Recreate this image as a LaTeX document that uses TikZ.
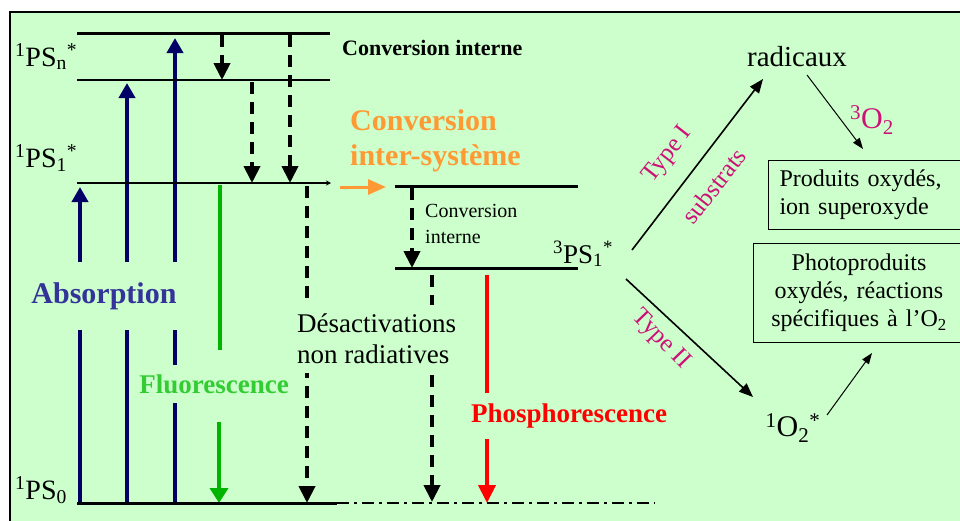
\documentclass[tikz,border=0pt]{standalone}
\usepackage{fontspec}
\setmainfont{Liberation Serif}
\usetikzlibrary{arrows.meta}
\definecolor{bgc}{HTML}{CCFFCC}
\definecolor{navy}{HTML}{000066}
\definecolor{absblue}{HTML}{333399}
\definecolor{fgreen}{HTML}{00B400}
\definecolor{ftext}{HTML}{33CC33}
\definecolor{orng}{HTML}{FF9933}
\definecolor{magn}{HTML}{CC1177}
\newcommand\fsz[2]{\fontsize{#1}{#2}\selectfont}
\newcommand\up[1]{\textsuperscript{#1}}
\newcommand\dn[1]{\textsubscript{#1}}
\begin{document}
\begin{tikzpicture}[x=1pt,y=-1pt,
  lbl/.style={inner sep=0pt},
  covered/.style={fill=bgc},
  level/.style={line width=2pt},
  thicklevel/.style={line width=3pt},
  absarrow/.style={draw=navy,line width=4.5pt,-{Triangle[length=15pt,width=16pt]}},
  darrow/.style={line width=4pt,dash pattern=on 12pt off 8pt,-{Triangle[length=17pt,width=16pt]}},
  fluoarrow/.style={draw=fgreen,line width=4pt},
  phosarrow/.style={draw=red,line width=4pt},
  typearrow/.style={line width=1.6pt,-{Triangle[length=14pt,width=11pt]}},
  thinarrow/.style={line width=1pt,-{Triangle[length=11pt,width=8pt]}},
  boxnode/.style={draw,line width=1pt,font={\fsz{24}{28}}},
  typelbl/.style={inner sep=0pt,text=magn,font={\fsz{25}{27}}},
]
\useasboundingbox (0,0) rectangle (960,520);
\fill[bgc] (10,12) rectangle (964,524);
\draw[line width=2pt] (10,524) -- (10,12) -- (964,12);

% level coordinates
\coordinate (n1a) at (77,33);   \coordinate (n1b) at (330,33);
\coordinate (n2a) at (77,80);   \coordinate (n2b) at (330,80);
\coordinate (s1a) at (77,183);  \coordinate (s1b) at (331,183);
\coordinate (s0a) at (77,503);  \coordinate (s0b) at (337,503);
\coordinate (s0c) at (655,503);
\coordinate (t1a) at (395,186); \coordinate (t1b) at (578,186);
\coordinate (t2a) at (395,268); \coordinate (t2b) at (578,268);

% absorption arrows
\coordinate (a1s) at (80,503);  \coordinate (a1e) at (80,187);
\coordinate (a2s) at (127,503); \coordinate (a2e) at (127,83);
\coordinate (a3s) at (175,503); \coordinate (a3e) at (175,38);
\draw[absarrow] (a1s) -- (a1e);
\draw[absarrow] (a2s) -- (a2e);
\draw[absarrow] (a3s) -- (a3e);

% internal conversions
\coordinate (c1s) at (222,35);  \coordinate (c1e) at (222,80);
\coordinate (c2s) at (252,82);  \coordinate (c2e) at (252,183);
\coordinate (c3s) at (290,35);  \coordinate (c3e) at (290,183);
\draw[darrow] (c1s) -- (c1e);
\draw[darrow] (c2s) -- (c2e);
\draw[darrow] (c3s) -- (c3e);

% fluorescence
\coordinate (f1s) at (220,185); \coordinate (f1e) at (220,350);
\coordinate (f2s) at (219,422); \coordinate (f2e) at (219,503);
\draw[fluoarrow] (f1s) -- (f1e);
\draw[fluoarrow,-{Triangle[length=15pt,width=18pt]}] (f2s) -- (f2e);

% non radiative
\coordinate (d1s) at (307,186); \coordinate (d1e) at (307,503);
\draw[darrow] (d1s) -- (d1e);
\coordinate (d2s) at (432,275); \coordinate (d2e) at (432,502);
\draw[darrow] (d2s) -- (d2e);
\coordinate (ic1) at (412,188); \coordinate (ic2) at (412,268);
\draw[darrow] (ic1) -- (ic2);

% phosphorescence
\coordinate (p1s) at (487,275); \coordinate (p1e) at (487,503);
\draw[phosarrow,-{Triangle[length=18pt,width=17pt]}] (p1s) -- (p1e);

% intersystem crossing
\coordinate (isc1) at (340,187); \coordinate (isc2) at (386,187);
\draw[draw=orng,line width=3pt,-{Triangle[length=18pt,width=15pt]}] (isc1) -- (isc2);

% levels
\draw[thicklevel] (n1a) -- (n1b);
\draw[level] (n2a) -- (n2b);
\draw[level,-{Stealth[length=5pt,width=5pt]}] (s1a) -- (s1b);
\draw[thicklevel] (s0a) -- (s0b);
\draw[line width=2.5pt,dash pattern=on 12pt off 5pt on 3pt off 5pt] (s0b) -- (s0c);
\draw[thicklevel] (t1a) -- (t1b);
\draw[thicklevel] (t2a) -- (t2b);

% state labels
\node[lbl,anchor=base west,font={\fsz{28}{30}}] (psn) at (15,66) {\up{1}PS\dn{n}\up{*}};
\node[lbl,anchor=base west,font={\fsz{28}{30}}] (ps1) at (15,167) {\up{1}PS\dn{1}\up{*}};
\node[lbl,anchor=base west,font={\fsz{28}{30}}] (ps0) at (15,499) {\up{1}PS\dn{0}};
\node[lbl,anchor=base west,font={\fsz{27}{30}}] (tps) at (553,263) {\up{3}PS\dn{1}\up{*}};

% process labels
\node[lbl,anchor=base west,font={\fsz{22}{26}\bfseries}] (ci) at (342,55) {Conversion interne};
\node[lbl,anchor=west,align=left,text=orng,font={\fsz{30}{35}\bfseries}] (isc) at (350,141) {Conversion\\inter-système};
\node[lbl,anchor=west,align=left,font={\fsz{20}{26}}] (ci2) at (425,224) {Conversion\\interne};
\node[covered,inner xsep=3pt,inner ysep=20pt,text=absblue,font={\fsz{30}{32}\bfseries}] (abs) at (104,296) {Absorption};
\node[covered,inner xsep=3pt,inner ysep=9pt,text=ftext,font={\fsz{27}{30}\bfseries}] (flu) at (214,384) {Fluorescence};
\node[covered,inner xsep=4pt,inner ysep=9pt,anchor=west,align=left,font={\fsz{27}{31}}] (des) at (293,339) {Désactivations\\non radiatives};
\node[covered,inner xsep=3pt,inner ysep=11pt,text=red,font={\fsz{27}{30}\bfseries}] (pho) at (569,416) {Phosphorescence};

% right part
\node[lbl,font={\fsz{29}{31}}] (rad) at (797,57) {radicaux};
\node[lbl,text=magn,font={\fsz{30}{32}}] (o2t) at (872,120) {\up{3}O\dn{2}};
\node[lbl,font={\fsz{30}{32}}] (o2s) at (793,428) {\up{1}O\dn{2}\up{*}};
\node[boxnode,anchor=north west,text width=174pt,inner xsep=11pt,align=left,minimum height=69pt] (box1) at (768,160) {Produits oxydés,\\ion superoxyde};
\node[boxnode,anchor=north west,text width=189pt,inner xsep=11pt,align=center,minimum height=99pt] (box2) at (753,243) {Photoproduits\\oxydés, réactions\\spécifiques à l’O\dn{2}};

\coordinate (ty1s) at (632,250); \coordinate (ty1e) at (763,79);
\draw[typearrow] (ty1s) -- (ty1e);
\coordinate (ty2s) at (626,279); \coordinate (ty2e) at (753,397);
\draw[typearrow] (ty2s) -- (ty2e);
\coordinate (r1s) at (807,75); \coordinate (r1e) at (863,149);
\draw[thinarrow] (r1s) -- (r1e);
\coordinate (o1s) at (827,415); \coordinate (o1e) at (872,353);
\draw[thinarrow] (o1s) -- (o1e);

\node[typelbl,rotate=52] (t1) at (668,155) {Type I};
\node[typelbl,rotate=52] (sub) at (714,186) {substrats};
\node[typelbl,rotate=-46] (t2) at (661,340) {Type II};
\end{tikzpicture}
\end{document}
